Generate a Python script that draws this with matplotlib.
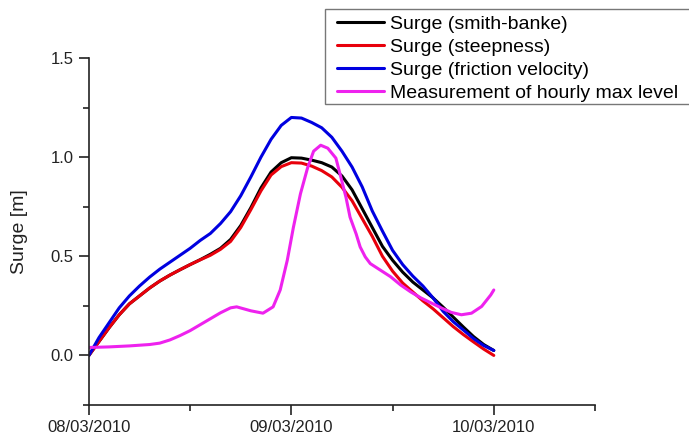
import matplotlib
matplotlib.use("Agg")
import matplotlib.pyplot as plt
import matplotlib.dates as mdates
from matplotlib.ticker import MultipleLocator
from matplotlib.patches import Rectangle
from matplotlib.transforms import IdentityTransform
import pandas as pd

plt.rcParams['font.family'] = ['Liberation Sans', 'DejaVu Sans']

start = pd.Timestamp("2010-03-08")

# Model surge series, sampled every 0.05 day from 08/03/2010
model_days = [0.00, 0.05, 0.10, 0.15, 0.20, 0.25, 0.30, 0.35, 0.40, 0.45,
              0.50, 0.55, 0.60, 0.65, 0.70, 0.75, 0.80, 0.85, 0.90, 0.95,
              1.00, 1.05, 1.10, 1.15, 1.20, 1.25, 1.30, 1.35, 1.40, 1.45,
              1.50, 1.55, 1.60, 1.65, 1.70, 1.75, 1.80, 1.85, 1.90, 1.95, 2.00]
surge_smith_banke = [0.000, 0.070, 0.140, 0.205, 0.260, 0.300, 0.340, 0.375, 0.405, 0.432,
                     0.458, 0.483, 0.510, 0.540, 0.585, 0.655, 0.745, 0.845, 0.925, 0.972,
                     0.997, 0.995, 0.985, 0.972, 0.950, 0.905, 0.835, 0.740, 0.645, 0.550,
                     0.480, 0.420, 0.370, 0.330, 0.290, 0.243, 0.193, 0.143, 0.095, 0.055, 0.025]
surge_steepness = [0.000, 0.070, 0.140, 0.205, 0.260, 0.300, 0.340, 0.375, 0.405, 0.432,
                   0.458, 0.482, 0.505, 0.535, 0.575, 0.645, 0.735, 0.830, 0.910, 0.952,
                   0.972, 0.970, 0.955, 0.932, 0.900, 0.848, 0.780, 0.690, 0.600, 0.500,
                   0.425, 0.365, 0.320, 0.275, 0.235, 0.190, 0.145, 0.105, 0.068, 0.032, 0.000]
surge_friction = [0.000, 0.090, 0.165, 0.240, 0.300, 0.350, 0.395, 0.435, 0.470, 0.505,
                  0.540, 0.580, 0.615, 0.665, 0.725, 0.805, 0.900, 1.000, 1.090, 1.160,
                  1.200, 1.197, 1.175, 1.148, 1.100, 1.030, 0.950, 0.850, 0.728, 0.627,
                  0.530, 0.458, 0.400, 0.350, 0.290, 0.222, 0.170, 0.128, 0.085, 0.050, 0.025]

# Observed hourly maximum level
meas_days = [0.00, 0.10, 0.20, 0.30, 0.35, 0.40, 0.45, 0.50, 0.55, 0.60,
             0.65, 0.70, 0.73, 0.80, 0.86, 0.91, 0.945, 0.98, 1.01, 1.045,
             1.08, 1.11, 1.145, 1.18, 1.22, 1.245, 1.27, 1.29, 1.32, 1.34,
             1.365, 1.39, 1.44, 1.49, 1.54, 1.59, 1.64, 1.69, 1.74, 1.79,
             1.84, 1.89, 1.94, 1.985, 2.00]
meas_level = [0.040, 0.043, 0.048, 0.055, 0.062, 0.078, 0.100, 0.125, 0.155, 0.185,
              0.215, 0.240, 0.245, 0.225, 0.213, 0.245, 0.330, 0.480, 0.645, 0.815,
              0.945, 1.030, 1.060, 1.045, 0.995, 0.897, 0.797, 0.697, 0.613, 0.547,
              0.497, 0.463, 0.430, 0.397, 0.355, 0.320, 0.290, 0.265, 0.240, 0.217,
              0.205, 0.213, 0.247, 0.305, 0.330]

labels = ["Surge (smith-banke)", "Surge (steepness)", "Surge (friction velocity)",
          "Measurement of hourly max level"]
colors = ["#000000", "#e8000b", "#0000e0", "#ee22ee"]


def to_time(days):
    return [start + pd.Timedelta(days=d) for d in days]


fig = plt.figure(figsize=(6.89, 4.32), dpi=100)
ax = fig.add_axes([0.129, 0.0625, 0.7346, 0.8033])

series = [(model_days, surge_smith_banke), (model_days, surge_steepness),
          (model_days, surge_friction), (meas_days, meas_level)]
handles = []
for (d, v), lab, c in zip(series, labels, colors):
    h, = ax.plot(to_time(d), v, color=c, lw=2.2, label=lab,
                 solid_joinstyle='round', solid_capstyle='round')
    handles.append(h)

ax.set_ylim(-0.25, 1.5)
ax.set_xlim(start, start + pd.Timedelta(days=2.5))
ax.yaxis.set_major_locator(MultipleLocator(0.5))
ax.yaxis.set_minor_locator(MultipleLocator(0.25))
ax.xaxis.set_major_locator(mdates.DayLocator())
ax.xaxis.set_minor_locator(mdates.HourLocator(byhour=[12]))
ax.xaxis.set_major_formatter(mdates.DateFormatter("%d/%m/%Y"))

for s in ["top", "right"]:
    ax.spines[s].set_visible(False)
for s in ["left", "bottom"]:
    ax.spines[s].set_linewidth(1.2)
    ax.spines[s].set_color("#222222")

ax.tick_params(which='major', direction='out', length=7, width=1.2, labelsize=12,
               colors="#222222", pad=4)
ax.tick_params(which='minor', direction='out', length=4, width=1.2, colors="#222222")
ax.set_ylabel("Surge [m]", fontsize=14, color="#222222", labelpad=16)

W, H = 689, 432
leg = fig.legend(handles=handles, loc='upper left',
                 bbox_to_anchor=(337 / W, 1 - 15 / H),
                 fontsize=14, frameon=False, borderpad=0.0,
                 labelspacing=0.28, handlelength=2.4, handletextpad=0.3,
                 borderaxespad=0.0)

# Legend frame drawn with extra room on the left of the handles
fig.canvas.draw()
bb = leg.get_window_extent()
frame = Rectangle((bb.x0 - 12, bb.y0 - 2), bb.width + 24, bb.height + 8,
                  transform=IdentityTransform(), fill=False,
                  edgecolor="#777777", linewidth=1.0)
fig.patches.append(frame)

fig.savefig("out.png", dpi=100)
